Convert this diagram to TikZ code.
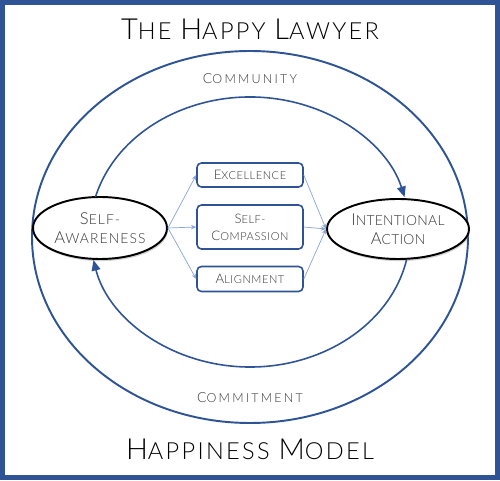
\documentclass[tikz,border=0pt]{standalone}
\usepackage{fontspec}
\setmainfont{Lato}[UprightFont={* Light}]
\usetikzlibrary{arrows.meta,shapes.geometric,shadows,calc}
\definecolor{frameblue}{RGB}{47,84,150}
\definecolor{lightarrow}{RGB}{140,165,215}
\definecolor{labelgray}{RGB}{55,55,55}
\newcommand\TB[1]{{\fontsize{16.5pt}{20pt}\selectfont#1}}
\newcommand\RB[1]{{\fontsize{7.9pt}{10pt}\selectfont#1}}
\newcommand\NB[1]{{\fontsize{9.4pt}{10.8pt}\selectfont#1}}
\newcommand\BB[1]{{\fontsize{7.5pt}{9.6pt}\selectfont#1}}
\tikzset{
  titletext/.style={anchor=base,font=\fontsize{13.4pt}{20pt}\selectfont\addfontfeature{LetterSpace=10},text=black,inner sep=0},
  ringtext/.style={anchor=base,font=\fontsize{7.1pt}{10pt}\selectfont\addfontfeature{LetterSpace=18},text=labelgray,inner sep=0},
  bignode/.style={ellipse,draw=black,line width=1.1pt,fill=white,inner sep=0,
    align=center,text=labelgray,
    drop shadow={shadow xshift=0.6pt,shadow yshift=-1.2pt,opacity=0.35}},
  valuebox/.style={rectangle,rounded corners=2.5pt,draw=frameblue,line width=0.9pt,fill=white,
    inner sep=0,minimum width=2.12cm,align=center,font=\fontsize{6.3pt}{9.6pt}\selectfont\addfontfeature{LetterSpace=5},text=labelgray},
  thinarrow/.style={draw=lightarrow,line width=0.4pt,-{Stealth[length=3pt,width=2.5pt]}},
  cyclearrow/.style={draw=frameblue,line width=0.9pt,-{Triangle[length=6pt,width=5pt]}},
}
\begin{document}
\begin{tikzpicture}[x=0.02cm,y=0.02cm]
\useasboundingbox (0,0) rectangle (500,480);
\fill[white] (0,0) rectangle (500,480);
\draw[frameblue,line width=0.1cm] (2.5,2.5) rectangle (497.5,477.5);
% rings
\draw[frameblue,line width=1.1pt] (250,243) ellipse [x radius=218, y radius=186];
\coordinate (c) at (250,248);
% titles
\node[titletext] (title) at (250,440) {\TB{T}HE \TB{H}APPY \TB{L}AWYER};
\node[titletext] (subtitle) at (250,21) {\TB{H}APPINESS \TB{M}ODEL};
\node[ringtext] (community) at (250,396) {\RB{C}OMMUNITY};
\node[ringtext] (commitment) at (250,77) {\RB{C}OMMITMENT};
% main nodes
\node[bignode,minimum width=2.68cm,minimum height=1.24cm,
  font=\fontsize{7.9pt}{10.8pt}\selectfont\addfontfeature{LetterSpace=8}] (sa) at (100,252) {\NB{S}ELF-\\\NB{A}WARENESS};
\node[bignode,minimum width=2.84cm,minimum height=1.2cm,
  font=\fontsize{7.9pt}{10.8pt}\selectfont\addfontfeature{LetterSpace=2}] (ia) at (398,251) {\NB{I}NTENTIONAL\\\NB{A}CTION};
\node[valuebox,minimum height=0.48cm] (ex) at (250,305) {\BB{E}XCELLENCE};
\node[valuebox,minimum height=0.88cm] (sc) at (250,253) {\BB{S}ELF-\\\BB{C}OMPASSION};
\node[valuebox,minimum height=0.5cm] (al) at (250,201) {\BB{A}LIGNMENT};
% cycle arcs
\draw[cyclearrow] ($(c)+(165:160 and 135)$) arc[start angle=165,end angle=15,x radius=160,y radius=135];
\draw[cyclearrow] ($(c)+(-12:160 and 135)$) arc[start angle=-12,end angle=-168,x radius=160,y radius=135];
% thin arrows
\draw[thinarrow] (sa.east) -- (ex.west);
\draw[thinarrow] (sa.east) -- (sc.west);
\draw[thinarrow] (sa.east) -- (al.west);
\draw[thinarrow] (ex.east) -- (ia.west);
\draw[thinarrow] (sc.east) -- (ia.west);
\draw[thinarrow] (al.east) -- (ia.west);
\end{tikzpicture}
\end{document}
